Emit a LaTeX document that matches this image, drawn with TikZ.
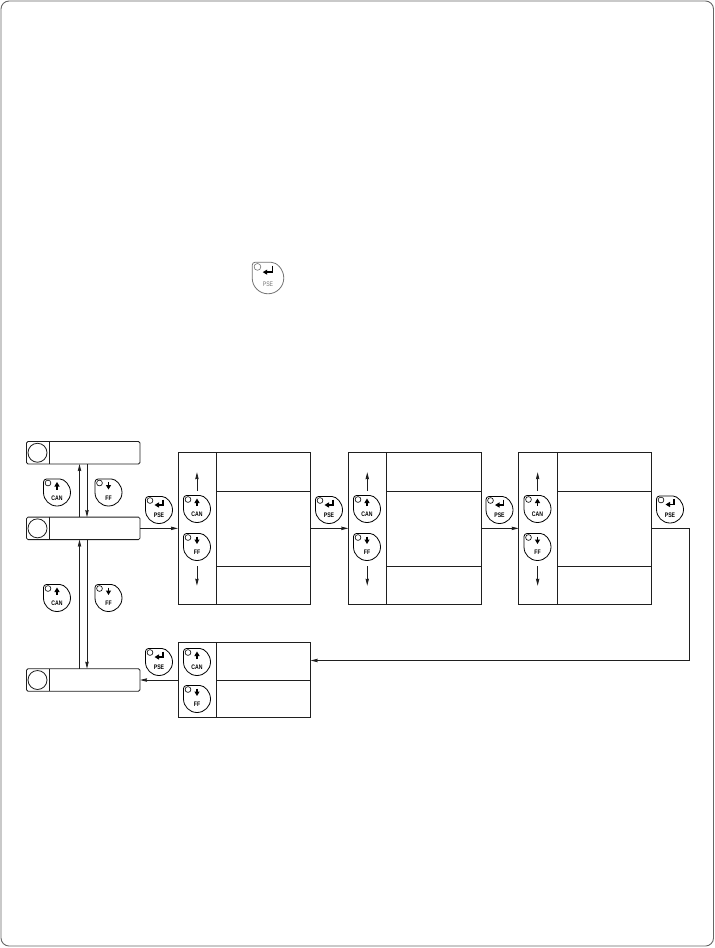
\documentclass[tikz,border=0pt]{standalone}
\usepackage{fontspec}
\setmainfont{Liberation Sans}
\newfontfamily\btnfont[FakeStretch=0.78]{Liberation Sans}
\usetikzlibrary{arrows.meta}
\tikzset{
  wire/.style={line width=0.8pt,draw=black!88},
  flow/.style={wire,-{Stealth[length=7pt,width=3.4pt,inset=0.6pt]}},
  fat/.style={line width=1.6pt,-{Stealth[length=4.5pt,width=5pt,inset=0pt]}},
  statusbox/.style={wire,rectangle,rounded corners=1.5pt,minimum width=113.5pt,minimum height=22.5pt,inner sep=0pt,outer sep=0pt},
  panelbox/.style={wire,rectangle,minimum width=132.7pt,inner sep=0pt,outer sep=0pt},
  btnlabel/.style={inner sep=0pt,font=\btnfont\bfseries\fontsize{6.6}{7}\selectfont},
}
% name, x, y, scale, colour, label, arrow: 1 up, 2 down, 3 return
\newcommand{\btn}[7]{%
  \begin{scope}[shift={(#2,#3)},scale=#4]
    \draw[wire,rounded corners=3pt,draw=#5] (-13.5,0) -- (-13.5,-13.5) -- (0,-13.5) arc[start angle=90,delta angle=-270,radius=13.5pt];
    \draw[wire,draw=#5,line width=0.6pt] (-9,-9.5) circle[radius=2.9pt];
    \ifcase#7\relax
    \or \draw[fat] (0,-3) -- (0,-10.5);
    \or \draw[fat] (0,-10.5) -- (0,-3);
    \or \draw[fat] (4,-10.5) -- (4,-5) -- (-4.5,-5);
    \fi
    \node[btnlabel,text=#5] (#1) at (0,5.5) {#6};
  \end{scope}}
% name: divider and rows of a panel
\newcommand{\rows}[1]{%
  \draw[wire] (#1.north west) ++(38.5,0) -- ++(0,151.3);
  \draw[wire] (#1.north west) ++(38.5,38.3) -- ++(94.2,0);
  \draw[wire] (#1.north west) ++(38.5,113.3) -- ++(94.2,0);
  \coordinate (#1ua) at ([shift={(19,38.5)}]#1.north west);
  \coordinate (#1ub) at ([shift={(19,19.5)}]#1.north west);
  \coordinate (#1da) at ([shift={(19,113.3)}]#1.north west);
  \coordinate (#1db) at ([shift={(19,133)}]#1.north west);
  \draw[flow] (#1ua) -- (#1ub);
  \draw[flow] (#1da) -- (#1db);
}
\newcommand{\status}[2]{%
  \node[statusbox] (#1) at (83.25,#2) {};
  \draw[wire] (#1.north west) ++(23,0) -- ++(0,22.5);
  \draw[wire] (#1.west) ++(11,0) circle[radius=9.5pt];
}
\begin{document}
\begin{tikzpicture}[x=1pt,y=-1pt]
\useasboundingbox (0,0) rectangle (715,948);
\draw[line width=0.9pt,draw=black!60,rounded corners=8pt] (1,1) rectangle (713.5,946);

\btn{pse0}{268}{278}{1.17}{black!55}{\mdseries PSE}{3}

\status{b1}{452.75}
\status{b2}{528.35}
\status{b3}{680}

\node[panelbox,minimum height=151.3pt] (p1) at (244.3,528.35) {};
\node[panelbox,minimum height=151.3pt] (p2) at (414.6,528.35) {};
\node[panelbox,minimum height=151.3pt] (p3) at (585,528.35) {};
\node[panelbox,minimum height=75.4pt] (p4) at (244.3,680) {};
\rows{p1}\rows{p2}\rows{p3}
\draw[wire] (p4.north west) ++(38.5,0) -- ++(0,75.4);
\draw[wire] (p4.west) ++(38.5,0) -- (p4.east);

\coordinate (ux) at (79.5,0);
\coordinate (dx) at (87,0);
\coordinate (rx) at (689.5,0);
\coordinate (ry) at (0,660.5);
\coordinate (c1) at (rx |- p3.east);
\coordinate (c2) at (rx |- ry);
\coordinate (c3) at (p4.east |- ry);

\draw[flow] (b2.north -| ux) -- (b1.south -| ux);
\draw[flow] (b1.south -| dx) -- (b2.north -| dx);
\draw[flow] (b3.north -| ux) -- (b2.south -| ux);
\draw[flow] (b2.south -| dx) -- (b3.north -| dx);
\draw[flow] (b2.east) -- (p1.west);
\draw[flow] (p1.east) -- (p2.west);
\draw[flow] (p2.east) -- (p3.west);
\draw[flow] (p3.east) -- (c1) -- (c2) -- (c3);
\draw[flow] (p4.west) -- (b3.east);

\btn{c1a}{57}{492.5}{1}{black}{CAN}{1}
\btn{f1a}{108.5}{492.5}{1}{black}{FF}{2}
\btn{c2a}{57}{598}{1}{black}{CAN}{1}
\btn{f2a}{108.5}{598}{1}{black}{FF}{2}
\btn{ps1}{159}{510}{1}{black}{PSE}{3}
\btn{ps2}{329}{510}{1}{black}{PSE}{3}
\btn{ps3}{499.5}{510}{1}{black}{PSE}{3}
\btn{ps4}{670}{509.5}{1}{black}{PSE}{3}
\btn{ps5}{159}{662}{1}{black}{PSE}{3}
\btn{cp1}{197}{509}{1}{black}{CAN}{1}
\btn{fp1}{197}{547}{1}{black}{FF}{2}
\btn{cp2}{367}{509}{1}{black}{CAN}{1}
\btn{fp2}{367}{547}{1}{black}{FF}{2}
\btn{cp3}{537.5}{509}{1}{black}{CAN}{1}
\btn{fp3}{537.5}{547}{1}{black}{FF}{2}
\btn{cp4}{197}{662}{1}{black}{CAN}{1}
\btn{fp4}{197}{699}{1}{black}{FF}{2}
\end{tikzpicture}
\end{document}
